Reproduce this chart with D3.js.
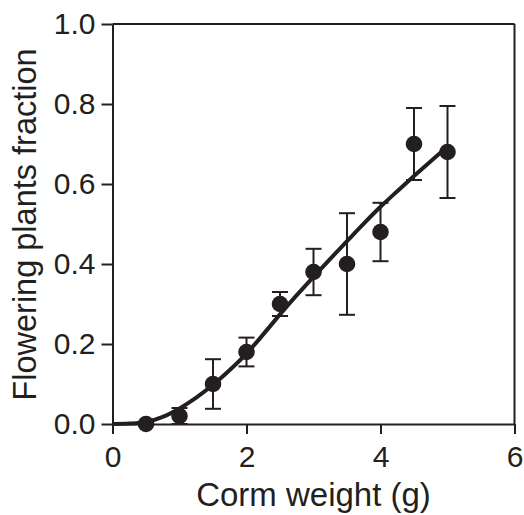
<!DOCTYPE html>
<html>
<head>
<meta charset="utf-8">
<script src="https://cdn.jsdelivr.net/npm/d3@7"></script>
<style>
  body { margin: 0; background: #fff; }
  svg { display: block; font-family: "Liberation Sans", Arial, sans-serif; }
</style>
</head>
<body>
<div id="chart"></div>
<script>
// measured points (corm weight g, fraction, error)
const weights = [0.5, 1.0, 1.5, 2.0, 2.5, 3.0, 3.5, 4.0, 4.5, 5.0];
const fractions = [0.0, 0.02, 0.1, 0.18, 0.3, 0.38, 0.4, 0.48, 0.7, 0.68];
const errors = [0, 0.02, 0.062, 0.036, 0.03, 0.058, 0.127, 0.073, 0.09, 0.115];

// fitted curve
const fitX = [0, 0.25, 0.5, 0.75, 1.0, 1.25, 1.5, 1.75, 2.0, 2.25, 2.5, 2.75, 3.0, 3.25, 3.5, 3.75, 4.0, 4.25, 4.5, 4.75, 5.0];
const fitY = [0, 0.001, 0.005, 0.018, 0.039, 0.066, 0.098, 0.135, 0.176, 0.224, 0.274, 0.322, 0.368, 0.413, 0.457, 0.501, 0.543, 0.582, 0.620, 0.657, 0.693];

const xTicks = [0, 2, 4, 6];
const yTicks = [0, 0.2, 0.4, 0.6, 0.8, 1.0];

const margin = { top: 24, right: 9.5, bottom: 91, left: 112.5 };
const W = 524, H = 515;
const width = W - margin.left - margin.right;
const height = H - margin.top - margin.bottom;
const ink = "#231f20";

const svg = d3.select("#chart").append("svg")
  .attr("width", W)
  .attr("height", H);

const g = svg.append("g")
  .attr("transform", `translate(${margin.left},${margin.top})`);

const x = d3.scaleLinear().domain([0, 6]).range([0, width]);
const y = d3.scaleLinear().domain([0, 1]).range([height, 0]);

// frame: top and right edges
g.append("line")
  .attr("x1", x(0)).attr("x2", x(6))
  .attr("y1", y(1)).attr("y2", y(1))
  .attr("stroke", ink).attr("stroke-width", 2);
g.append("line")
  .attr("x1", x(6)).attr("x2", x(6))
  .attr("y1", y(1)).attr("y2", y(0))
  .attr("stroke", ink).attr("stroke-width", 2);

const xAxis = d3.axisBottom(x).tickValues(xTicks).tickFormat(d3.format("d"))
  .tickSizeInner(10).tickSizeOuter(0).tickPadding(12);
const yAxis = d3.axisLeft(y).tickValues(yTicks).tickFormat(d3.format(".1f"))
  .tickSizeInner(11).tickSizeOuter(0).tickPadding(6);

const xg = g.append("g")
  .attr("transform", `translate(0,${height})`)
  .call(xAxis);
const yg = g.append("g").call(yAxis);

[xg, yg].forEach(ax => {
  ax.select(".domain").attr("stroke", ink).attr("stroke-width", 2);
  ax.selectAll(".tick line").attr("stroke", ink).attr("stroke-width", 2);
  ax.selectAll(".tick text")
    .attr("fill", ink)
    .style("font-size", "30px")
    .style("font-family", "'Liberation Sans', Arial, sans-serif");
});

// fitted curve
const fit = fitX.map((d, i) => ({ x: d, y: fitY[i] }));
g.append("path")
  .datum(fit)
  .attr("fill", "none")
  .attr("stroke", ink)
  .attr("stroke-width", 4)
  .attr("d", d3.line().x(d => x(d.x)).y(d => y(d.y)).curve(d3.curveCatmullRom));

const pts = weights.map((w, i) => ({ x: w, y: fractions[i], e: errors[i] }));

// error bars
const bars = g.selectAll(".err").data(pts.filter(d => d.e > 0)).enter().append("g")
  .attr("class", "err")
  .attr("stroke", ink)
  .attr("stroke-width", 2);
bars.append("line")
  .attr("x1", d => x(d.x)).attr("x2", d => x(d.x))
  .attr("y1", d => y(d.y - d.e)).attr("y2", d => y(d.y + d.e));
bars.append("line")
  .attr("x1", d => x(d.x) - 8).attr("x2", d => x(d.x) + 8)
  .attr("y1", d => y(d.y + d.e)).attr("y2", d => y(d.y + d.e));
bars.append("line")
  .attr("x1", d => x(d.x) - 8).attr("x2", d => x(d.x) + 8)
  .attr("y1", d => y(d.y - d.e)).attr("y2", d => y(d.y - d.e));

// points
g.selectAll(".dot").data(pts).enter().append("circle")
  .attr("class", "dot")
  .attr("cx", d => x(d.x))
  .attr("cy", d => y(d.y))
  .attr("r", 8.3)
  .attr("fill", ink);

// axis titles
svg.append("text")
  .attr("x", margin.left + width / 2)
  .attr("y", 506)
  .attr("text-anchor", "middle")
  .attr("fill", ink)
  .style("font-size", "33px")
  .text("Corm weight (g)");

svg.append("text")
  .attr("transform", `translate(36,224.5) rotate(-90)`)
  .attr("text-anchor", "middle")
  .attr("fill", ink)
  .style("font-size", "32.5px")
  .text("Flowering plants fraction");
</script>
</body>
</html>
